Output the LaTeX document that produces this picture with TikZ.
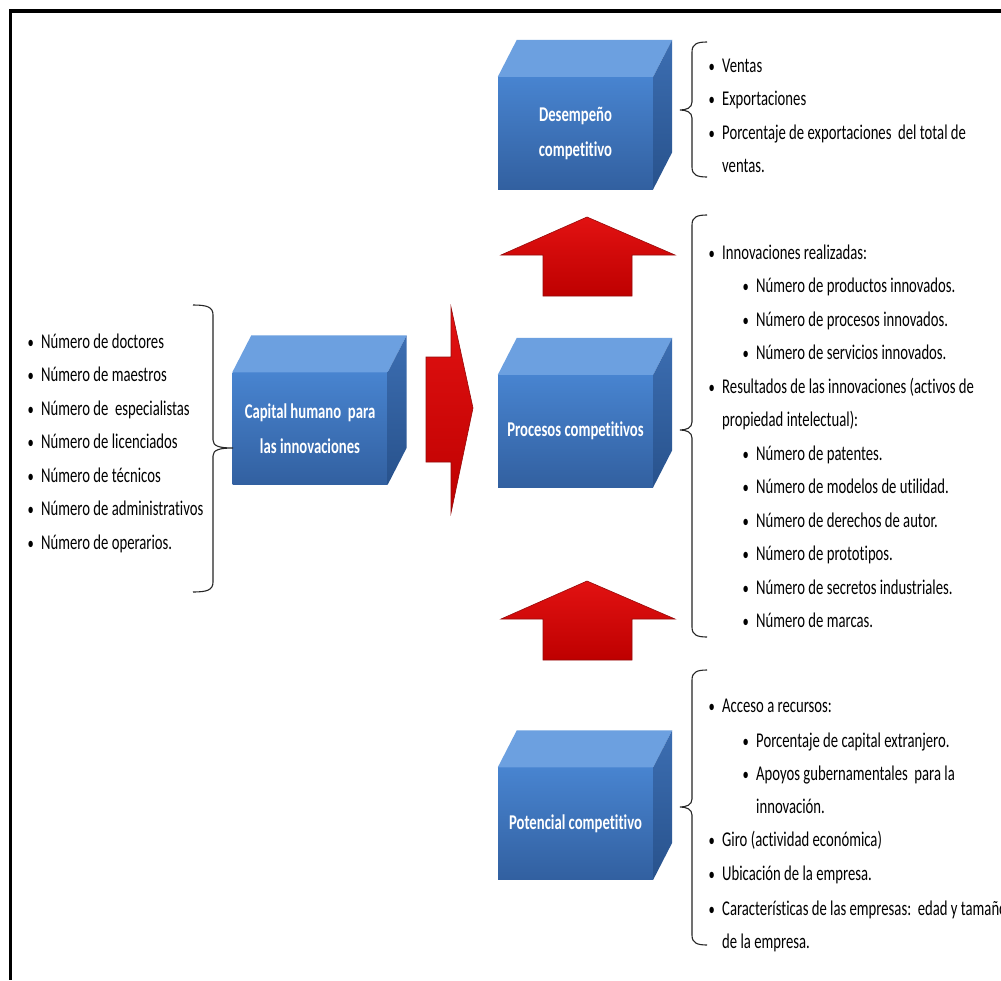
\documentclass[tikz,border=0pt]{standalone}
\usepackage{fontspec}
\setmainfont{Carlito}[FakeStretch=0.70, Ligatures=NoCommon]
\definecolor{cfronttop}{RGB}{72,132,208}
\definecolor{cfrontbot}{RGB}{50,96,160}
\definecolor{ctop}{RGB}{108,160,224}
\definecolor{csidetop}{RGB}{60,110,178}
\definecolor{csidebot}{RGB}{40,82,140}
\definecolor{redtop}{RGB}{226,18,18}
\definecolor{redbot}{RGB}{190,0,0}
\definecolor{reddark}{RGB}{150,10,10}
\newcommand\mycube[4]{%
  \node[face] (#1) at (#2,#3) {#4};
  \fill[ctop] (#1.north west) -- ++(19,-37) -- ([shift={(19,-37)}]#1.north east) -- (#1.north east) -- cycle;
  \shade[top color=csidetop, bottom color=csidebot] (#1.north east) -- ++(19,-37) -- ([shift={(19,-37)}]#1.south east) -- (#1.south east) -- cycle;
}
% left-pointing brace: xline, ytop, ymid, ybot
\newcommand\bracel[4]{%
  \draw[bracestyle] (#1+15,#2) .. controls (#1+5,#2) and (#1,#2+2) .. (#1,#2+10) -- (#1,#3-8) .. controls (#1,#3-2) and (#1-6,#3) .. (#1-12,#3) .. controls (#1-6,#3) and (#1,#3+2) .. (#1,#3+8) -- (#1,#4-10) .. controls (#1,#4-2) and (#1+5,#4) .. (#1+15,#4);}
% right-pointing brace
\newcommand\bracer[4]{%
  \draw[bracestyle] (#1-20,#2) .. controls (#1-6,#2) and (#1,#2+2) .. (#1,#2+10) -- (#1,#3-8) .. controls (#1,#3-2) and (#1+6,#3) .. (#1+20,#3) .. controls (#1+6,#3) and (#1,#3+2) .. (#1,#3+8) -- (#1,#4-10) .. controls (#1,#4-2) and (#1-6,#4) .. (#1-20,#4);}
\begin{document}
\begin{tikzpicture}[x=1pt,y=-1pt,
  face/.style={minimum width=155pt, minimum height=112pt, inner sep=0pt,
    top color=cfronttop, bottom color=cfrontbot, text=white,
    font=\bfseries\fontsize{21}{35}\selectfont, align=center},
  txt/.style={anchor=base west, inner sep=0pt, font=\fontsize{21}{24}\selectfont},
  bul/.style={anchor=base west, inner sep=0pt, font=\fontsize{18}{24}\selectfont},
  bracestyle/.style={line width=1.1pt, draw=black!85},
  redarrow/.style={top color=redtop, bottom color=redbot, draw=reddark, line width=0.6pt, line join=miter}]
\clip (0,0) rectangle (1001,980);
\fill[white] (0,0) rectangle (1001,980);
% frame
\draw[line width=3.5pt] (9,11) -- (1001,11);
\draw[line width=2.6pt] (10.3,9.5) -- (10.3,980);

% cubes
\mycube{desemp}{575.5}{133}{Desempeño\\competitivo}
\mycube{capital}{310}{428.5}{Capital humano\ \ para\\las innovaciones}
\mycube{procesos}{575.5}{431}{Procesos competitivos}
\mycube{potencial}{575.5}{823.5}{Potencial competitivo}

% red arrows
\path[redarrow] (426,357) -- (451,357) -- (451,307) -- (473,408) -- (451,513) -- (451,462) -- (426,462) -- cycle;
\path[redarrow] (587,217) -- (675,255) -- (632,255) -- (632,296) -- (543,296) -- (543,255) -- (501,255) -- cycle;
\path[redarrow] (587,581) -- (675,619) -- (632,619) -- (632,660) -- (543,660) -- (543,619) -- (501,619) -- cycle;

% braces
\bracer{213}{305}{448}{592}
\bracel{692}{42}{110}{177}
\bracel{692}{215}{430}{637}
\bracel{692}{670}{807}{945}

% left list
\foreach \t [count=\i] in {Número de doctores, Número de maestros, Número de\ \ especialistas, Número de licenciados, Número de técnicos, Número de administrativos, Número de operarios.}{
  \node[bul] (lb\i) at (27.5,{348+33.5*(\i-1)}) {•};
  \node[txt] (lt\i) at (41,{348+33.5*(\i-1)}) {\t};
}

% Desempeño list
\node[bul] (db1) at (708.5,72) {•};
\node[txt] (dt1) at (722,72) {Ventas};
\node[bul] (db2) at (708.5,105.5) {•};
\node[txt] (dt2) at (722,105.5) {Exportaciones};
\node[bul] (db3) at (708.5,139) {•};
\node[txt] (dt3) at (722,139) {Porcentaje de exportaciones\ \ del total de};
\node[txt] (dt4) at (722,172.5) {ventas.};

% Procesos list
\node[bul] (pb1) at (708.5,259) {•};
\node[txt] (pt1) at (722,259) {Innovaciones realizadas:};
\node[bul] (pb2) at (742.5,292.5) {•};
\node[txt] (pt2) at (756,292.5) {Número de productos innovados.};
\node[bul] (pb3) at (742.5,326) {•};
\node[txt] (pt3) at (756,326) {Número de procesos innovados.};
\node[bul] (pb4) at (742.5,359.5) {•};
\node[txt] (pt4) at (756,359.5) {Número de servicios innovados.};
\node[bul] (pb5) at (708.5,393) {•};
\node[txt] (pt5) at (722,393) {Resultados de las innovaciones (activos de};
\node[txt] (pt6) at (722,426.5) {propiedad intelectual):};
\node[bul] (pb7) at (742.5,460) {•};
\node[txt] (pt7) at (756,460) {Número de patentes.};
\node[bul] (pb8) at (742.5,493.5) {•};
\node[txt] (pt8) at (756,493.5) {Número de modelos de utilidad.};
\node[bul] (pb9) at (742.5,527) {•};
\node[txt] (pt9) at (756,527) {Número de derechos de autor.};
\node[bul] (pb10) at (742.5,560.5) {•};
\node[txt] (pt10) at (756,560.5) {Número de prototipos.};
\node[bul] (pb11) at (742.5,594) {•};
\node[txt] (pt11) at (756,594) {Número de secretos industriales.};
\node[bul] (pb12) at (742.5,627.5) {•};
\node[txt] (pt12) at (756,627.5) {Número de marcas.};

% Potencial list
\node[bul] (qb1) at (708.5,712) {•};
\node[txt] (qt1) at (722,712) {Acceso a recursos:};
\node[bul] (qb2) at (742.5,747.5) {•};
\node[txt] (qt2) at (756,747.5) {Porcentaje de capital extranjero.};
\node[bul] (qb3) at (742.5,780) {•};
\node[txt] (qt3) at (756,780) {Apoyos gubernamentales\ \ para la};
\node[txt] (qt4) at (756,813) {innovación.};
\node[bul] (qb5) at (708.5,846) {•};
\node[txt] (qt5) at (722,846) {Giro (actividad económica)};
\node[bul] (qb6) at (708.5,880) {•};
\node[txt] (qt6) at (722,880) {Ubicación de la empresa.};
\node[bul] (qb7) at (708.5,915) {•};
\node[txt] (qt7) at (722,915) {Características de las empresas:\ \ edad y tamaño};
\node[txt] (qt8) at (722,948) {de la empresa.};
\end{tikzpicture}
\end{document}
